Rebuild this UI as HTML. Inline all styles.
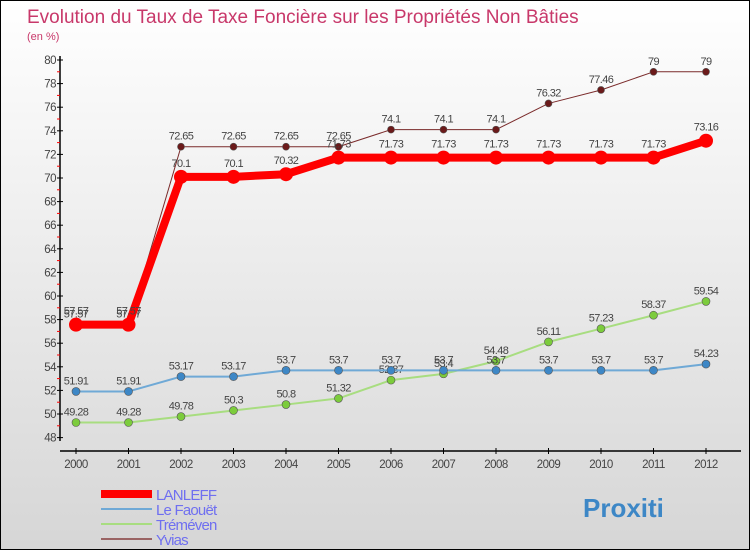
<!DOCTYPE html>
<html><head><meta charset="utf-8">
<style>
body{margin:0;}
#c{width:748px;height:548px;border:1px solid #000;background:linear-gradient(#ffffff,#d6d6d6);position:relative;font-family:"Liberation Sans",sans-serif;overflow:hidden}
</style></head>
<body>
<div id="c">
<svg id="s" width="748" height="548" xmlns="http://www.w3.org/2000/svg" style="position:absolute;left:0;top:0">
<text x="26" y="22" font-size="19" fill="#c8386a">Evolution du Taux de Taxe Foncière sur les Propriétés Non Bâties</text>
<text x="26" y="39" font-size="11" fill="#c8386a">(en %)</text>
</svg>
</div>
<script>
const years=[2000,2001,2002,2003,2004,2005,2006,2007,2008,2009,2010,2011,2012];
const lanleff=[57.57,57.57,70.1,70.1,70.32,71.73,71.73,71.73,71.73,71.73,71.73,71.73,73.16];
const lefaouet=[51.91,51.91,53.17,53.17,53.7,53.7,53.7,53.7,53.7,53.7,53.7,53.7,54.23];
const tremeven=[49.28,49.28,49.78,50.3,50.8,51.32,52.87,53.4,54.48,56.11,57.23,58.37,59.54];
const yvias=[57.57,57.57,72.65,72.65,72.65,72.65,74.1,74.1,74.1,76.32,77.46,79,79];
const yTicks=[48,50,52,54,56,58,60,62,64,66,68,70,72,74,76,78,80];
const names=["LANLEFF","Le Faouët","Tréméven","Yvias"];
const NS="http://www.w3.org/2000/svg";
const s=document.getElementById('s');
const X=i=>75+i*52.5;
const Y=v=>59+(80-v)*11.8;
function el(t,a,p){const e=document.createElementNS(NS,t);for(const k in a)e.setAttribute(k,a[k]);(p||s).appendChild(e);return e;}
// axes
const ya=el('line',{x1:59,y1:55,x2:59,y2:440,stroke:'#000','stroke-width':1.5});


const xa=el('line',{x1:59,y1:450,x2:740,y2:450,stroke:'#000','stroke-width':1.5});


yTicks.forEach(v=>{
 el('line',{x1:56,x2:62,y1:Y(v),y2:Y(v),stroke:'#000'});
 if(v<80) el('line',{x1:56,x2:59,y1:Y(v+1),y2:Y(v+1),stroke:'red'});
 const t=el('text',{x:55,y:Y(v)+4,'font-size':11.5,fill:'#444','text-anchor':'end','letter-spacing':'-0.5'});
 t.textContent=v;
 
 
});
years.forEach((y,i)=>{
 el('line',{x1:X(i),x2:X(i),y1:447,y2:453,stroke:'#000'});
 const t=el('text',{x:X(i),y:467,'font-size':11.5,fill:'#444','text-anchor':'middle','letter-spacing':'-0.5'});
 t.textContent=y;
 
 
});
const series=[
 {d:yvias,c:'#7a2a2a',w:1,r:3.5,f:'#6b1a1a',n:'yvias'},
 {d:tremeven,c:'#a8dd80',w:2,r:4,f:'#7ccc3c',n:'tremeven'},
 {d:lefaouet,c:'#6fa9d6',w:2,r:4,f:'#3d87c6',n:'le-faouet'},
 {d:lanleff,c:'#ff0000',w:8,r:7,f:'#ff0000',n:'lanleff'}];
series.forEach(se=>{
 const p=el('polyline',{points:se.d.map((v,i)=>X(i)+','+Y(v)).join(' '),fill:'none',stroke:se.c,'stroke-width':se.w,'stroke-linejoin':'round'});
 
 
 se.d.forEach((v,i)=>{
  const c=el('circle',{cx:X(i),cy:Y(v),r:se.r,fill:se.f,stroke:se.n==='lanleff'?'none':'#555','stroke-width':0.6});
  
  
  const t=el('text',{x:X(i),y:Y(v)-(se.n==='lanleff'?10:7),'font-size':11,fill:'#444','text-anchor':'middle','letter-spacing':'-0.6'});
  t.textContent=v;
  
  
 });
});
// legend
const lc=['#ff0000','#6fa9d6','#a8dd80','#9a6464'],lw=[8,2,2,2];
names.forEach((n,i)=>{
 const y=493+i*15;
 const l=el('line',{x1:100,x2:151,y1:y,y2:y,stroke:lc[i],'stroke-width':lw[i]});
 
 
 const t=el('text',{x:155,y:y+6,'font-size':15,fill:'#6f6ff0','letter-spacing':'-0.8'});
 t.textContent=n;
 
 
});
const lg=el('text',{x:582,y:516,'font-size':26,'font-weight':'bold',fill:'#3d87c6'});
lg.textContent='Proxiti';


</script>
</body></html>
